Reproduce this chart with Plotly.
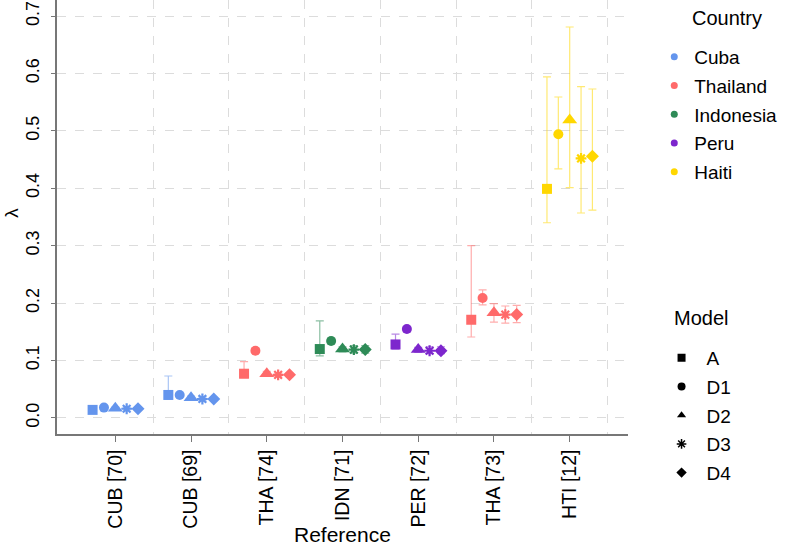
import plotly.graph_objects as go

references = ["CUB [70]", "CUB [69]", "THA [74]", "IDN [71]", "PER [72]", "THA [73]", "HTI [12]"]
ref_country = ["Cuba", "Cuba", "Thailand", "Indonesia", "Peru", "Thailand", "Haiti"]
countries = ["Cuba", "Thailand", "Indonesia", "Peru", "Haiti"]
country_colors = ["#6495ED", "#FF6A6A", "#2E8B57", "#7D26CD", "#FFD700"]
models = ["A", "D1", "D2", "D3", "D4"]

# lambda estimates per model (one value per reference)
val_A  = [0.014, 0.040, 0.077, 0.120, 0.128, 0.171, 0.399]
val_D1 = [0.018, 0.040, 0.117, 0.134, 0.155, 0.209, 0.494]
val_D2 = [0.017, 0.035, 0.077, 0.120, 0.119, 0.183, 0.519]
val_D3 = [0.016, 0.033, 0.075, 0.119, 0.117, 0.180, 0.452]
val_D4 = [0.016, 0.033, 0.075, 0.119, 0.117, 0.180, 0.456]

low_A  = [0.012, 0.033, 0.070, 0.108, 0.120, 0.141, 0.340]
low_D1 = [0.016, 0.037, 0.113, 0.129, 0.150, 0.197, 0.434]
low_D2 = [0.015, 0.032, 0.073, 0.115, 0.114, 0.167, 0.401]
low_D3 = [0.014, 0.030, 0.072, 0.113, 0.112, 0.165, 0.357]
low_D4 = [0.014, 0.030, 0.072, 0.113, 0.112, 0.166, 0.362]

up_A  = [0.017, 0.073, 0.098, 0.169, 0.146, 0.300, 0.594]
up_D1 = [0.020, 0.043, 0.121, 0.139, 0.159, 0.223, 0.559]
up_D2 = [0.019, 0.038, 0.081, 0.124, 0.123, 0.199, 0.681]
up_D3 = [0.018, 0.036, 0.078, 0.126, 0.124, 0.195, 0.577]
up_D4 = [0.018, 0.036, 0.078, 0.126, 0.124, 0.196, 0.573]

values = [val_A, val_D1, val_D2, val_D3, val_D4]
lows = [low_A, low_D1, low_D2, low_D3, low_D4]
ups = [up_A, up_D1, up_D2, up_D3, up_D4]

symbols = ["square", "circle", "triangle-up", "asterisk-open", "diamond"]
sizes = [10, 10, 13, 9, 10]
offsets = [-0.3, -0.15, 0.0, 0.15, 0.3]
ytick_vals = [0, 0.1, 0.2, 0.3, 0.4, 0.5, 0.6, 0.7]


def rgba(hexc, a):
    h = hexc.lstrip("#")
    r, g, b = int(h[0:2], 16), int(h[2:4], 16), int(h[4:6], 16)
    return f"rgba({r},{g},{b},{a})"


fig = go.Figure()
cmap = dict(zip(countries, country_colors))
ncat = len(references)

# invisible trace so the overlay axis (between-category grid) is drawn
fig.add_trace(go.Scatter(x=[None], y=[None], xaxis="x2", showlegend=False,
                         hoverinfo="skip", mode="markers"))

for i, ref in enumerate(references):
    col = cmap[ref_country[i]]
    for m in range(len(models)):
        v = values[m][i]
        lw = 2.2 if symbols[m] == "asterisk-open" else 0
        fig.add_trace(go.Scatter(
            x=[i + 1 + offsets[m]], y=[v], mode="markers",
            marker=dict(symbol=symbols[m], size=sizes[m], color=col,
                        line=dict(width=lw, color=col)),
            error_y=dict(type="data", symmetric=False,
                         array=[ups[m][i] - v], arrayminus=[v - lows[m][i]],
                         color=rgba(col, 0.55), thickness=1.2, width=4),
            showlegend=False, hoverinfo="skip",
        ))

# Country legend
for c, col in zip(countries, country_colors):
    fig.add_trace(go.Scatter(
        x=[None], y=[None], mode="markers", name=c,
        marker=dict(symbol="circle", size=7, color=col),
        legend="legend", legendgroup="c_" + c,
    ))

# Model legend
for m, s in zip(models, symbols):
    fig.add_trace(go.Scatter(
        x=[None], y=[None], mode="markers", name=m,
        marker=dict(symbol=s, size=8, color="black",
                    line=dict(width=1.5 if s == "asterisk-open" else 0, color="black")),
        legend="legend2", legendgroup="m_" + m,
    ))

font_family = "Liberation Sans, Arial, sans-serif"

fig.update_layout(
    width=790, height=546,
    margin=dict(l=57, r=162, t=0, b=112),
    plot_bgcolor="white", paper_bgcolor="white",
    font=dict(family=font_family, color="black", size=18),
    xaxis=dict(
        range=[0.23, ncat + 0.77], automargin=False,
        tickmode="array", tickvals=list(range(1, ncat + 1)), ticktext=references,
        tickangle=-90, tickfont=dict(size=19.5),
        ticks="outside", ticklen=6, tickcolor="#777777",
        showgrid=False, zeroline=False,
        showline=True, linecolor="#777777", linewidth=1.5,
    ),
    xaxis2=dict(
        range=[0.23, ncat + 0.77], overlaying="x", automargin=False,
        tickmode="array", tickvals=[k + 0.5 for k in range(1, ncat + 1)],
        showticklabels=False, ticks="", showline=False, zeroline=False,
        showgrid=True, gridcolor="#dcdcdc", griddash="dash", gridwidth=1,
        layer="below traces",
    ),
    yaxis=dict(
        range=[-0.028, 0.728], automargin=False,
        tickmode="array", tickvals=ytick_vals,
        ticktext=[f"{t:.1f}" for t in ytick_vals],
        tickangle=-90, tickfont=dict(size=18), ticklabelstandoff=5,
        ticks="outside", ticklen=4, tickcolor="#777777",
        showgrid=True, gridcolor="#dcdcdc", griddash="dash", gridwidth=1,
        zeroline=False,
        showline=True, linecolor="#777777", linewidth=1.5,
    ),
    legend=dict(
        x=1.046, xanchor="left", y=0.9125, yanchor="top",
        font=dict(size=19), tracegroupgap=1, bgcolor="rgba(0,0,0,0)",
    ),
    legend2=dict(
        x=1.05, xanchor="left", y=0.219, yanchor="top",
        font=dict(size=19), tracegroupgap=1, itemwidth=40, bgcolor="rgba(0,0,0,0)",
    ),
    annotations=[
        dict(text="Reference", xref="paper", yref="paper", x=0.5, y=-0.232,
             xanchor="center", yanchor="middle", showarrow=False, font=dict(size=21)),
        dict(text="λ", xref="paper", yref="paper", x=-0.0788, y=0.51,
             xanchor="center", yanchor="middle", textangle=-90, showarrow=False,
             font=dict(size=19)),
        dict(text="Country", xref="paper", yref="paper", x=1.173, y=0.9585,
             xanchor="center", yanchor="middle", showarrow=False, font=dict(size=20)),
        dict(text="Model", xref="paper", yref="paper", x=1.128, y=0.267,
             xanchor="center", yanchor="middle", showarrow=False, font=dict(size=20)),
    ],
)

fig.write_html("out.html", config={"displayModeBar": False},
               post_script="document.body.style.margin='0';document.body.style.padding='0';")
